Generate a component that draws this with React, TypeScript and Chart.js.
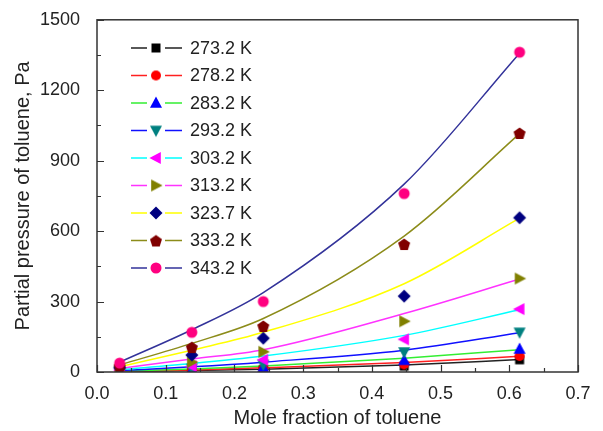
import React, { useEffect, useRef } from "react";
import { Chart, registerables } from "chart.js";

Chart.register(...registerables);

// ---- data ----
const moleFraction = [0.033, 0.138, 0.242, 0.447, 0.615];
const temperatureLabels = ["273.2 K", "278.2 K", "283.2 K", "293.2 K", "303.2 K", "313.2 K", "323.7 K", "333.2 K", "343.2 K"];

// measured partial pressures (Pa)
const p273 = [1, 4, 10, 25, 52];
const p278 = [2, 6, 14, 32, 68];
const p283 = [3, 9, 20, 50, 98];
const p293 = [5, 15, 32, 85, 169];
const p303 = [8, 24, 52, 139, 268];
const p313 = [12, 42, 86, 216, 398];
const p323 = [18, 72, 144, 323, 657];
const p333 = [25, 106, 196, 545, 1018];
const p343 = [38, 169, 300, 760, 1362];

// fitted curves read at the same mole fractions (Pa)
const fit273 = [2, 6, 12, 30, 53];
const fit278 = [3, 9, 18, 40, 67];
const fit283 = [4, 13, 26, 59, 95];
const fit293 = [6, 22, 42, 93, 167];
const fit303 = [10, 36, 68, 156, 265];
const fit313 = [15, 55, 95, 249, 396];
const fit323 = [22, 93, 169, 376, 655];
const fit333 = [30, 122, 228, 579, 1015];
const fit343 = [42, 180, 338, 800, 1358];

const xTicks = [0, 0.1, 0.2, 0.3, 0.4, 0.5, 0.6, 0.7];
const yTicks = [0, 300, 600, 900, 1200, 1500];

// ---- styles ----
const measured = [p273, p278, p283, p293, p303, p313, p323, p333, p343];
const fitted = [fit273, fit278, fit283, fit293, fit303, fit313, fit323, fit333, fit343];
const markerColors = ["#000000", "#ff0000", "#0000ff", "#008080", "#ff00ff", "#808000", "#000080", "#800000", "#ff0080"];
const lineColors = ["#222222", "#ff2020", "#33ee33", "#1010ff", "#00ffff", "#ff33ff", "#ffff00", "#8c8c1a", "#33339a"];
const markerShapes = ["square", "circle", "up", "down", "left", "right", "diamond", "pentagon", "circle"];
const markerSizes = [9, 10, 12, 12, 12, 12, 13, 12, 11];

function makeMarker(shape: string, color: string, size: number) {
  const s = 18;
  const c = document.createElement("canvas");
  c.width = s;
  c.height = s;
  const g = c.getContext("2d")!;
  g.fillStyle = color;
  g.translate(s / 2, s / 2);
  const r = size / 2;
  g.beginPath();
  const tri = (rot: number) => {
    g.rotate(rot);
    g.moveTo(0, -r * 1.1);
    g.lineTo(r * 1.0, r * 0.8);
    g.lineTo(-r * 1.0, r * 0.8);
    g.closePath();
  };
  switch (shape) {
    case "square":
      g.rect(-r, -r, 2 * r, 2 * r);
      break;
    case "circle":
      g.arc(0, 0, r, 0, Math.PI * 2);
      break;
    case "up":
      tri(0);
      break;
    case "down":
      tri(Math.PI);
      break;
    case "left":
      tri(-Math.PI / 2);
      break;
    case "right":
      tri(Math.PI / 2);
      break;
    case "diamond":
      g.moveTo(0, -r);
      g.lineTo(r, 0);
      g.lineTo(0, r);
      g.lineTo(-r, 0);
      g.closePath();
      break;
    case "pentagon":
      for (let k = 0; k < 5; k++) {
        const a = -Math.PI / 2 + (k * 2 * Math.PI) / 5;
        const px = Math.cos(a) * r * 1.05;
        const py = Math.sin(a) * r * 1.05 + 0.8;
        if (k === 0) g.moveTo(px, py);
        else g.lineTo(px, py);
      }
      g.closePath();
      break;
  }
  g.fill();
  return c;
}

const FONT = "'Liberation Sans', Arial, Helvetica, sans-serif";

export default function App() {
  const ref = useRef<HTMLCanvasElement>(null);

  useEffect(() => {
    if (!ref.current) return;
    const markers = markerShapes.map((sh, i) => makeMarker(sh, markerColors[i], markerSizes[i]));

    const datasets: any[] = [];
    fitted.forEach((vals, i) => {
      datasets.push({
        label: "fit " + temperatureLabels[i],
        data: moleFraction.map((x, k) => ({ x, y: vals[k] })),
        borderColor: lineColors[i],
        borderWidth: 1.5,
        pointRadius: 0,
        showLine: true,
        cubicInterpolationMode: "monotone",
        fill: false,
        order: 100 - i,
      });
    });
    measured.forEach((vals, i) => {
      datasets.push({
        label: temperatureLabels[i],
        data: moleFraction.map((x, k) => ({ x, y: vals[k] })),
        showLine: false,
        pointStyle: markers[i],
        pointRadius: 6,
        borderColor: markerColors[i],
        backgroundColor: markerColors[i],
        order: 20 - i,
      });
    });

    const framePlugin = {
      id: "frame",
      afterDraw(chart: any) {
        const { ctx, chartArea } = chart;
        const { left, right, top, bottom } = chartArea;
        const xs = chart.scales.x;
        const ys = chart.scales.y;
        ctx.save();
        ctx.strokeStyle = "#333333";
        ctx.lineWidth = 1.5;
        ctx.strokeRect(left, top, right - left, bottom - top);
        ctx.lineWidth = 1.2;
        ctx.beginPath();
        for (let i = 0; i <= 14; i++) {
          const px = Math.round(xs.getPixelForValue(i * 0.05)) + 0.5;
          const len = i % 2 === 0 ? 7 : 4;
          ctx.moveTo(px, bottom);
          ctx.lineTo(px, bottom - len);
        }
        for (let i = 0; i <= 10; i++) {
          const py = Math.round(ys.getPixelForValue(i * 150)) + 0.5;
          const len = i % 2 === 0 ? 7 : 4;
          ctx.moveTo(left, py);
          ctx.lineTo(left + len, py);
        }
        ctx.stroke();
        ctx.restore();
      },
    };

    const legendPlugin = {
      id: "customLegend",
      afterDatasetsDraw(chart: any) {
        const { ctx } = chart;
        ctx.save();
        ctx.font = `18px ${FONT}`;
        ctx.textBaseline = "middle";
        ctx.textAlign = "left";
        temperatureLabels.forEach((lab, i) => {
          const y = 48 + i * 27.5;
          ctx.strokeStyle = lineColors[i];
          ctx.lineWidth = 1.5;
          ctx.beginPath();
          ctx.moveTo(131, y);
          ctx.lineTo(147, y);
          ctx.moveTo(165, y);
          ctx.lineTo(182, y);
          ctx.stroke();
          const m = markers[i];
          ctx.drawImage(m, 156 - m.width / 2, y - m.height / 2);
          ctx.fillStyle = "#222222";
          ctx.fillText(lab, 190, y + 1);
        });
        ctx.restore();
      },
    };

    const chart = new Chart(ref.current, {
      type: "scatter",
      data: { datasets },
      options: {
        animation: false,
        responsive: false,
        events: [],
        layout: { padding: { top: 17, right: 25, left: 0, bottom: 0 } },
        plugins: { legend: { display: false }, tooltip: { enabled: false } },
        scales: {
          x: {
            type: "linear",
            min: 0,
            max: 0.7,
            afterBuildTicks: (s: any) => {
              s.ticks = xTicks.map((v) => ({ value: v }));
            },
            afterFit: (s: any) => {
              s.height = 59;
            },
            grid: { display: false },
            border: { display: false },
            ticks: {
              padding: 3,
              color: "#222222",
              font: { family: FONT, size: 18 },
              callback: (v: any) => Number(v).toFixed(1),
            },
            title: {
              display: true,
              text: "Mole fraction of toluene",
              color: "#222222",
              font: { family: FONT, size: 20 },
              padding: { top: 0, bottom: 1 },
            },
          },
          y: {
            type: "linear",
            min: 0,
            max: 1500,
            afterBuildTicks: (s: any) => {
              s.ticks = yTicks.map((v) => ({ value: v }));
            },
            afterFit: (s: any) => {
              s.width = 97;
            },
            grid: { display: false },
            border: { display: false },
            ticks: {
              padding: 9,
              color: "#222222",
              font: { family: FONT, size: 18 },
              callback: (v: any) => String(v),
            },
            title: {
              display: true,
              text: "Partial pressure of toluene, Pa",
              color: "#222222",
              font: { family: FONT, size: 20 },
              padding: { top: 11, bottom: 0 },
            },
          },
        },
      },
      plugins: [framePlugin, legendPlugin],
    });
    return () => chart.destroy();
  }, []);

  return (
    <div style={{ position: "fixed", left: 0, top: 0, width: 603, height: 431, background: "#ffffff" }}>
      <canvas ref={ref} width={603} height={431} style={{ display: "block" }} />
    </div>
  );
}
